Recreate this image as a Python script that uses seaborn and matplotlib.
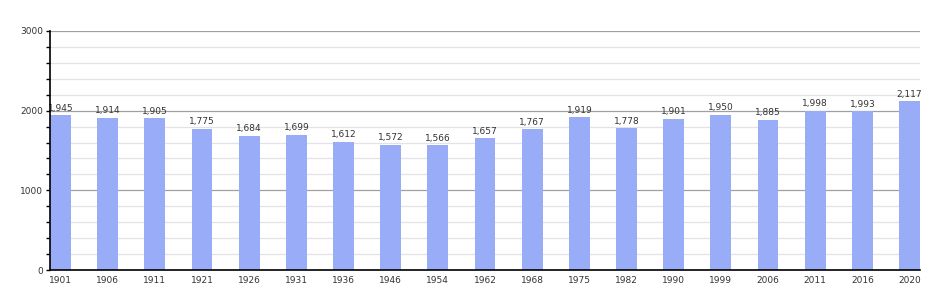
import matplotlib
matplotlib.use("Agg")
import matplotlib.pyplot as plt
import seaborn as sns
import pandas as pd
from matplotlib.ticker import MultipleLocator

years = ["1901", "1906", "1911", "1921", "1926", "1931", "1936", "1946", "1954", "1962",
         "1968", "1975", "1982", "1990", "1999", "2006", "2011", "2016", "2020"]
population = [1945, 1914, 1905, 1775, 1684, 1699, 1612, 1572, 1566, 1657,
              1767, 1919, 1778, 1901, 1950, 1885, 1998, 1993, 2117]

df = pd.DataFrame({"year": years, "pop": population})

sns.set_style("white")
plt.rcParams["font.family"] = ["DejaVu Sans"]

fig = plt.figure(figsize=(9.5, 3.0), dpi=100)
ax = fig.add_axes([50/950, 1 - 270/300, 870/950, 239/300])

sns.barplot(data=df, x="year", y="pop", color="#99acf8", saturation=1,
            width=0.445, ax=ax, zorder=3, linewidth=0, edgecolor="none")

ax.set_xlim(-0.2225, 18.2225)
ax.set_ylim(0, 3000)
ax.yaxis.set_major_locator(MultipleLocator(1000))
ax.yaxis.set_minor_locator(MultipleLocator(200))
ax.grid(which="major", axis="y", color="#a0a0a0", linewidth=0.9, zorder=1)
ax.grid(which="minor", axis="y", color="#e2e2e8", linewidth=0.9, zorder=0)
ax.set_axisbelow(True)

for s in ["top", "right"]:
    ax.spines[s].set_visible(False)
for s in ["left", "bottom"]:
    ax.spines[s].set_color("black")
    ax.spines[s].set_linewidth(1.2)
    ax.spines[s].set_zorder(5)

ax.tick_params(axis="y", which="major", length=3, width=1, color="black",
               labelsize=6.5, labelcolor="#333333", pad=2, left=True)
ax.tick_params(axis="y", which="minor", length=3, width=1, color="black", left=True)
ax.tick_params(axis="x", length=0, labelsize=6.5, labelcolor="#333333", pad=4)
ax.set_xlabel("")
ax.set_ylabel("")

for i, v in enumerate(population):
    ax.text(i, v + 30, f"{v:,}", ha="center", va="bottom", fontsize=6.5,
            color="#333333", zorder=4)

fig.savefig("out.png", dpi=100)
